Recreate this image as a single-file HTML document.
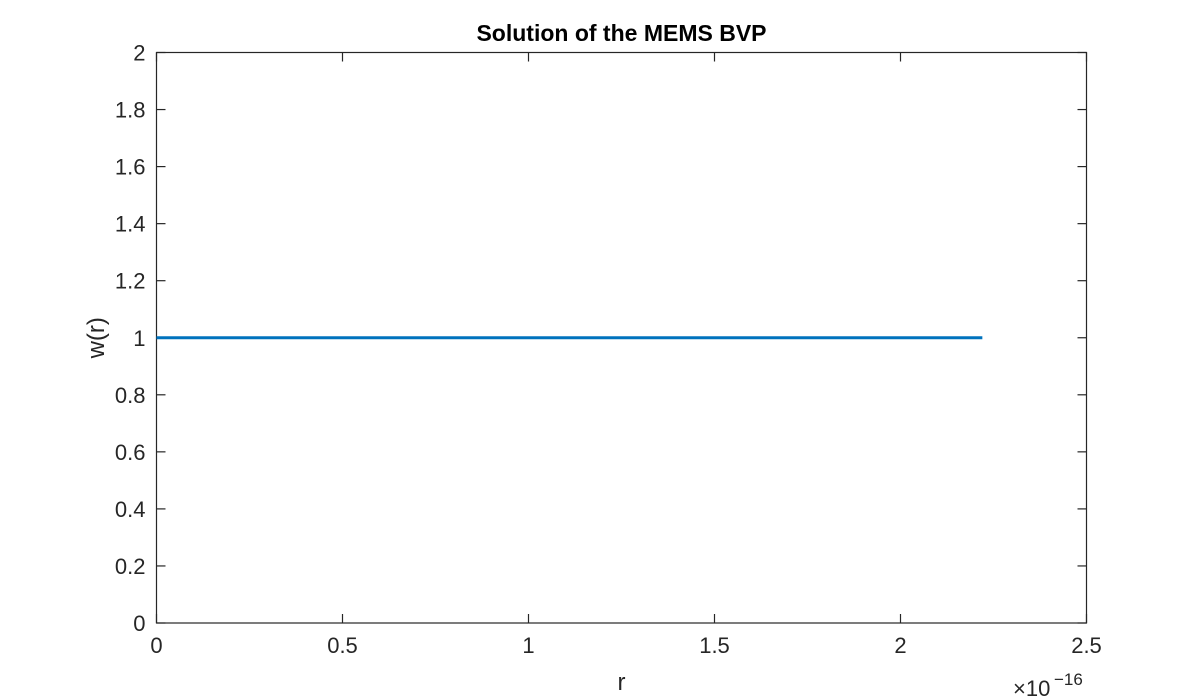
<!DOCTYPE html>
<html><head><meta charset="utf-8"><style>
html,body{margin:0;padding:0;background:#fff;}
svg{display:block;font-family:"Liberation Sans",Helvetica,Arial,sans-serif;}
</style></head><body>
<svg id="chart" width="1200" height="700" viewBox="0 0 1200 700" xmlns="http://www.w3.org/2000/svg">
<rect width="1200" height="700" fill="#fff"/>
<g id="g"></g>
</svg>
<script>
const xTicks = [0, 0.5, 1, 1.5, 2, 2.5];
const xTickLabels = ["0", "0.5", "1", "1.5", "2", "2.5"];
const yTicks = [0, 0.2, 0.4, 0.6, 0.8, 1, 1.2, 1.4, 1.6, 1.8, 2];
const yTickLabels = ["0", "0.2", "0.4", "0.6", "0.8", "1", "1.2", "1.4", "1.6", "1.8", "2"];
const rValues = [0, 2.22];
const wValues = [1, 1];

const L = 156.5, R = 1086.5, T = 52.5, B = 623;
const xMin = 0, xMax = 2.5, yMin = 0, yMax = 2;
function sx(v){ return L + (v - xMin) / (xMax - xMin) * (R - L); }
function sy(v){ return B - (v - yMin) / (yMax - yMin) * (B - T); }

const NS = "http://www.w3.org/2000/svg";
const g = document.getElementById("g");
function mk(tag, attrs, text){
  const e = document.createElementNS(NS, tag);
  for (const k in attrs) e.setAttribute(k, attrs[k]);
  if (text !== undefined) e.textContent = text;
  g.appendChild(e);
  return e;
}

const box = mk("rect", {x:L, y:T, width:R-L, height:B-T, fill:"#fff", stroke:"#262626", "stroke-width":1.2});



xTicks.forEach((v, i) => {
  const x = sx(v);
  const t1 = mk("line", {x1:x, x2:x, y1:B, y2:B-9, stroke:"#262626", "stroke-width":1.2});
  
  
  const t2 = mk("line", {x1:x, x2:x, y1:T, y2:T+9, stroke:"#262626", "stroke-width":1.2});
  
  
  const lb = mk("text", {x:x, y:B+30, "text-anchor":"middle", "font-size":22, fill:"#262626"}, xTickLabels[i]);
  
  
});
yTicks.forEach((v, i) => {
  const y = sy(v);
  const t1 = mk("line", {x1:L, x2:L+9, y1:y, y2:y, stroke:"#262626", "stroke-width":1.2});
  
  
  const t2 = mk("line", {x1:R, x2:R-9, y1:y, y2:y, stroke:"#262626", "stroke-width":1.2});
  
  
  const lb = mk("text", {x:L-11, y:y+8, "text-anchor":"end", "font-size":22, fill:"#262626"}, yTickLabels[i]);
  
  
});

const pts = rValues.map((r, i) => sx(r) + "," + sy(wValues[i])).join(" ");
const line = mk("polyline", {points:pts, fill:"none", stroke:"#0072BD", "stroke-width":3});



const title = mk("text", {x:(L+R)/2, y:41, "text-anchor":"middle", "font-size":23, "font-weight":"bold", fill:"#000"}, "Solution of the MEMS BVP");



const xl = mk("text", {x:(L+R)/2, y:690, "text-anchor":"middle", "font-size":24, fill:"#262626"}, "r");



const yl = mk("text", {x:0, y:0, "text-anchor":"middle", "font-size":24, fill:"#262626", transform:"translate(104," + ((T+B)/2) + ") rotate(-90)"}, "w(r)");



const ex = mk("text", {x:1013, y:696, "font-size":22, fill:"#262626"}, "×10");


const ex2 = mk("text", {x:1054, y:685, "font-size":17, fill:"#262626"}, "−16");


</script>
</body></html>
